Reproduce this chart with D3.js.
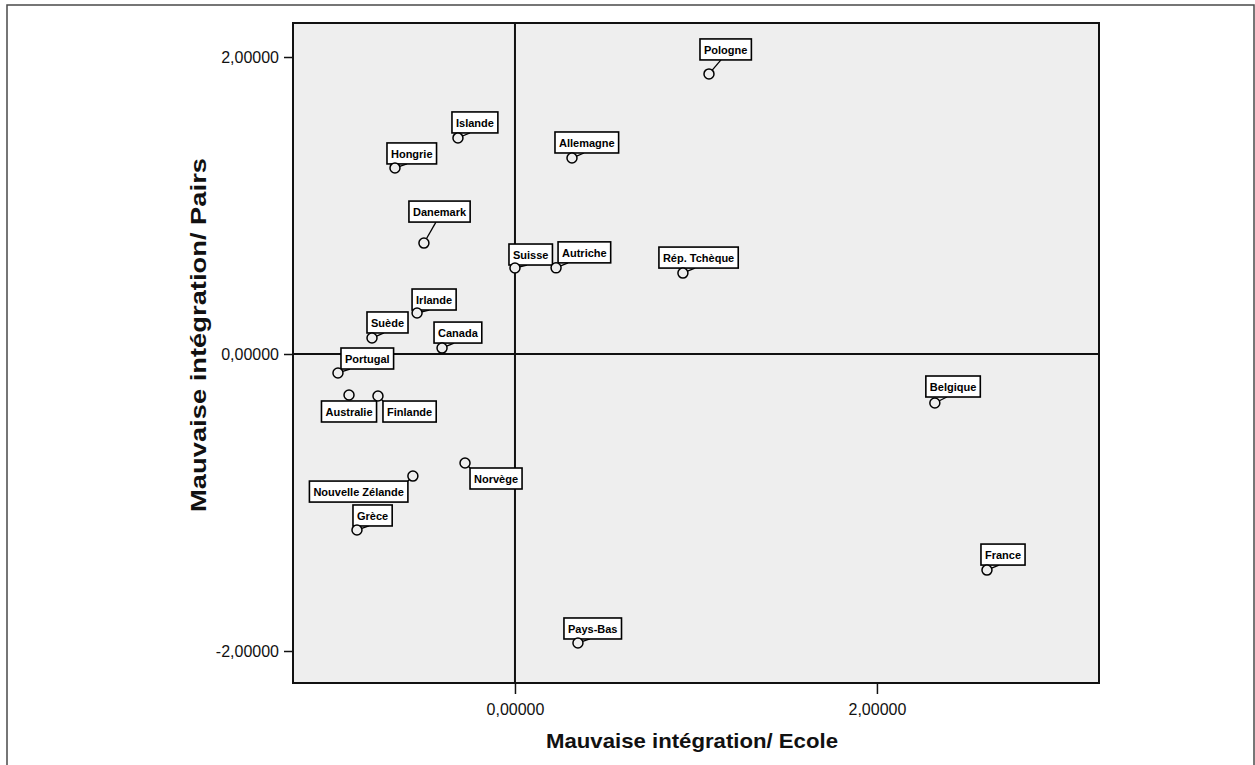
<!DOCTYPE html>
<html>
<head>
<meta charset="utf-8">
<script src="https://cdn.jsdelivr.net/npm/d3@7"></script>
<style>
    body { margin: 0; background: #fff; }
    svg { display: block; font-family: 'Liberation Sans', Arial, sans-serif; }
</style>
</head>
<body>
<svg id="chart" width="1255" height="765"></svg>
<script>
// scores per country (x = Ecole, y = Pairs)
const countries = [ 'Pologne', 'Islande', 'Hongrie', 'Allemagne', 'Danemark', 'Suisse', 'Autriche',
    'Rép. Tchèque', 'Irlande', 'Suède', 'Canada', 'Portugal', 'Australie', 'Finlande', 'Norvège',
    'Nouvelle Zélande', 'Grèce', 'Pays-Bas', 'Belgique', 'France' ];
const ecole = [ 1.072, -0.315, -0.663, 0.315, -0.503, 0.000, 0.227, 0.928, -0.541, -0.790, -0.403,
    -0.978, -0.917, -0.757, -0.276, -0.564, -0.873, 0.348, 2.320, 2.608 ];
const pairs = [ 1.886, 1.455, 1.253, 1.320, 0.747, 0.579, 0.580, 0.545, 0.276, 0.108, 0.040,
    -0.128, -0.276, -0.283, -0.734, -0.822, -1.185, -1.946, -0.330, -1.455 ];
const xTicks = [ 0, 2 ];
const yTicks = [ -2, 0, 2 ];
const xTitle = 'Mauvaise intégration/ Ecole';
const yTitle = 'Mauvaise intégration/ Pairs';

// where each label box sits relative to its point: [dx, dy, anchor]
const labelPos = {
    'Pologne': [ -9, -35, 'start' ], 'Islande': [ -6, -26, 'start' ], 'Hongrie': [ -8, -25, 'start' ],
    'Allemagne': [ -17, -26, 'start' ], 'Danemark': [ -15, -42, 'start' ], 'Suisse': [ -6, -24, 'start' ],
    'Autriche': [ 2, -26, 'start' ], 'Rép. Tchèque': [ -24, -26, 'start' ], 'Irlande': [ -5, -24, 'start' ],
    'Suède': [ -5, -26, 'start' ], 'Canada': [ -8, -26, 'start' ], 'Portugal': [ 3, -25, 'start' ],
    'Australie': [ 0, 6, 'middle' ], 'Finlande': [ 5, 5, 'start' ], 'Norvège': [ 5, 5, 'start' ],
    'Nouvelle Zélande': [ -5, 5, 'end' ], 'Grèce': [ -4, -25, 'start' ], 'Pays-Bas': [ -14, -25, 'start' ],
    'Belgique': [ -9, -27, 'start' ], 'France': [ -6, -26, 'start' ]
};

const data = countries.map( ( c, i ) => ( { name: c, x: ecole[ i ], y: pairs[ i ] } ) );

const svg = d3.select( '#chart' );
const plot = { left: 293, right: 1099, top: 23, bottom: 683 };

const x = d3.scaleLinear().domain( [ -1.2265, 3.227 ] ).range( [ plot.left, plot.right ] ),
    y = d3.scaleLinear().domain( [ -2.2155, 2.229 ] ).range( [ plot.bottom, plot.top ] );

const fr = d3.formatLocale( { decimal: ',', thousands: '.', grouping: [ 3 ], currency: [ '', '€' ], minus: '-' } );
const fmt = fr.format( '.5f' );

// outer frame (open at the bottom)
svg.append( 'rect' )
    .attr( 'x', 7 ).attr( 'y', 5 )
    .attr( 'width', 1247 ).attr( 'height', 800 )
    .attr( 'fill', 'none' ).attr( 'stroke', '#4a4a4a' ).attr( 'stroke-width', 1.5 );

svg.append( 'rect' )
    .attr( 'x', plot.left ).attr( 'y', plot.top )
    .attr( 'width', plot.right - plot.left ).attr( 'height', plot.bottom - plot.top )
    .attr( 'fill', '#eeeeee' ).attr( 'stroke', '#111' ).attr( 'stroke-width', 2 );

// axes
const yAxis = svg.append( 'g' )
    .attr( 'transform', `translate(${plot.left},0)` )
    .call( d3.axisLeft( y ).tickValues( yTicks ).tickFormat( fmt ).tickSize( 9 ).tickPadding( 5 ) );
const xAxis = svg.append( 'g' )
    .attr( 'transform', `translate(0,${plot.bottom})` )
    .call( d3.axisBottom( x ).tickValues( xTicks ).tickFormat( fmt ).tickSize( 11 ).tickPadding( 10 ) );

[ xAxis, yAxis ].forEach( a => {
    a.select( '.domain' ).remove();
    a.selectAll( 'line' ).attr( 'stroke', '#111' ).attr( 'stroke-width', 1.5 );
    a.selectAll( 'text' ).attr( 'font-size', 16 ).attr( 'fill', '#111' )
        .attr( 'font-family', "'Liberation Sans', Arial, sans-serif" );
} );

// reference lines at zero
svg.append( 'line' )
    .attr( 'x1', x( 0 ) ).attr( 'x2', x( 0 ) )
    .attr( 'y1', plot.top ).attr( 'y2', plot.bottom )
    .attr( 'stroke', '#111' ).attr( 'stroke-width', 2 );
svg.append( 'line' )
    .attr( 'x1', plot.left ).attr( 'x2', plot.right )
    .attr( 'y1', y( 0 ) ).attr( 'y2', y( 0 ) )
    .attr( 'stroke', '#111' ).attr( 'stroke-width', 2 );

// titles
svg.append( 'text' )
    .attr( 'x', 546 ).attr( 'y', 748 )
    .attr( 'font-size', 21 ).attr( 'font-weight', 'bold' ).attr( 'fill', '#111' )
    .attr( 'textLength', 292 ).attr( 'lengthAdjust', 'spacingAndGlyphs' )
    .text( xTitle );

svg.append( 'text' )
    .attr( 'transform', 'translate(206,512) rotate(-90)' )
    .attr( 'font-size', 22 ).attr( 'font-weight', 'bold' ).attr( 'fill', '#111' )
    .attr( 'textLength', 354 ).attr( 'lengthAdjust', 'spacingAndGlyphs' )
    .text( yTitle );

// points with labels
const r = 5;
const pts = svg.append( 'g' ).selectAll( 'g' ).data( data ).enter().append( 'g' );

pts.each( function( d ) {
    const g = d3.select( this );
    const cx = x( d.x ), cy = y( d.y );
    const [ dx, dy, anchor ] = labelPos[ d.name ];

    const box = g.append( 'rect' );
    const txt = g.append( 'text' )
        .attr( 'font-size', 11 ).attr( 'font-weight', 'bold' ).attr( 'fill', '#000' )
        .text( d.name );
    const w = txt.node().getComputedTextLength() + 8, h = 21;

    let left = cx + dx;
    if( anchor == 'middle' ) left -= w / 2;
    if( anchor == 'end' ) left -= w;
    const top = cy + dy;

    box.attr( 'x', left ).attr( 'y', top ).attr( 'width', w ).attr( 'height', h )
        .attr( 'fill', '#fff' ).attr( 'stroke', '#000' ).attr( 'stroke-width', 1.6 );
    txt.attr( 'x', left + 4 ).attr( 'y', top + 15 );

    // connector from the marker to the box
    let tx, ty;
    if( dy < 0 ){
        tx = Math.max( left + 3, Math.min( left + w - 3, cx + 12 ) );
        ty = top + h;
    } else {
        tx = Math.max( left, Math.min( left + w, cx ) );
        ty = Math.max( top, Math.min( top + h, cy ) );
    }
    const L = Math.hypot( tx - cx, ty - cy );
    if( L > r + 1 ){
        g.insert( 'line', 'rect' )
            .attr( 'x1', cx + ( tx - cx ) * r / L ).attr( 'y1', cy + ( ty - cy ) * r / L )
            .attr( 'x2', tx ).attr( 'y2', ty )
            .attr( 'stroke', '#000' ).attr( 'stroke-width', 1.3 );
    }

    g.append( 'circle' )
        .attr( 'cx', cx ).attr( 'cy', cy ).attr( 'r', r )
        .attr( 'fill', '#eeeeee' ).attr( 'stroke', '#000' ).attr( 'stroke-width', 1.5 );
} );
</script>
</body>
</html>
